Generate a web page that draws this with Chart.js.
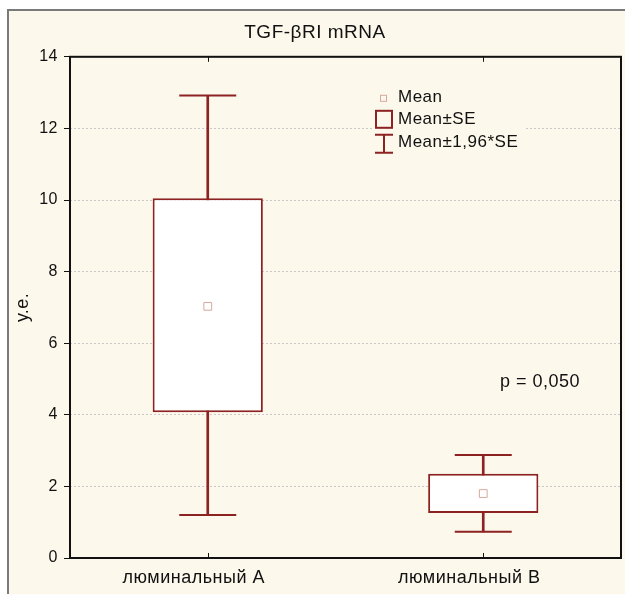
<!DOCTYPE html>
<html lang="ru">
<head>
<meta charset="UTF-8">
<title>TGF-βRI mRNA</title>
<script src="https://cdn.jsdelivr.net/npm/chart.js"></script>
<style>
    html, body { margin: 0; padding: 0; background: #fff; }
    .frame {
        position: absolute; left: 7px; top: 9px;
        width: 616px; height: 583px;
        border-left: 2px solid #7a7a7a; border-top: 2px solid #7a7a7a;
        background: #fcf8ec;
    }
    canvas { display: block; }
</style>
</head>
<body>
<div class="frame"><canvas id="chart" width="616" height="583"></canvas></div>
<script>
// data
const groups = ['люминальный A', 'люминальный B'];
const means = [7.03, 1.80];
const seLow = [4.07, 1.26];
const seHigh = [10.05, 2.35];
const ciLow = [1.20, 0.73];
const ciHigh = [12.92, 2.88];
const yMin = 0, yMax = 14, yStep = 2;
const pText = 'p = 0,050';

const RED = '#8c2222';
const MEAN_COL = '#d6a99b';
const FONT = '"Liberation Sans", Arial, sans-serif';

// frame, inward x ticks, legend box and p value
const extras = {
    id: 'extras',
    beforeDraw(chart) {
        // statistica-like wide text
        chart.ctx.letterSpacing = '0.5px';
    },
    afterDraw(chart) {
        const ctx = chart.ctx;
        const a = chart.chartArea;
        const xs = chart.scales.x;
        ctx.save();
        ctx.strokeStyle = '#111';
        ctx.lineWidth = 2;
        ctx.strokeRect(a.left, a.top, a.right - a.left, a.bottom - a.top);
        ctx.lineWidth = 1;
        groups.forEach((g, i) => {
            const x = Math.round(xs.getPixelForValue(i)) + 0.5;
            ctx.beginPath();
            ctx.moveTo(x, a.bottom); ctx.lineTo(x, a.bottom - 5);
            ctx.moveTo(x, a.top); ctx.lineTo(x, a.top + 5);
            ctx.stroke();
        });

        // legend
        const lx = a.left + 302, ly = a.top + 28;
        ctx.fillStyle = '#fcf8ec';
        ctx.fillRect(lx, ly, 153, 85);
        ctx.font = '17px ' + FONT;
        ctx.fillStyle = '#111';
        ctx.textBaseline = 'middle';
        ctx.fillText('Mean', lx + 26, ly + 13);
        ctx.fillText('Mean±SE', lx + 26, ly + 35);
        ctx.fillText('Mean±1,96*SE', lx + 26, ly + 58);
        ctx.strokeStyle = MEAN_COL;
        ctx.lineWidth = 1;
        ctx.strokeRect(lx + 8.5, ly + 10.5, 6, 6);
        ctx.strokeStyle = RED;
        ctx.lineWidth = 2;
        ctx.strokeRect(lx + 4, ly + 26, 16, 17);
        ctx.beginPath();
        ctx.moveTo(lx + 3, ly + 50); ctx.lineTo(lx + 21, ly + 50);
        ctx.moveTo(lx + 12, ly + 50); ctx.lineTo(lx + 12, ly + 68);
        ctx.moveTo(lx + 3, ly + 68); ctx.lineTo(lx + 21, ly + 68);
        ctx.stroke();

        ctx.fillStyle = '#111';
        ctx.font = '18px ' + FONT;
        ctx.fillText(pText, a.left + 430, a.top + 325);
        ctx.restore();
    }
};

new Chart(document.getElementById('chart'), {
    data: {
        labels: groups,
        datasets: [
            {
                type: 'bar',
                label: 'whisker',
                data: groups.map((g, i) => [ciLow[i], ciHigh[i]]),
                backgroundColor: RED,
                barThickness: 2,
                grouped: false,
                order: 3
            },
            {
                type: 'bar',
                label: 'Mean±SE',
                data: groups.map((g, i) => [seLow[i], seHigh[i]]),
                backgroundColor: '#ffffff',
                borderColor: RED,
                borderWidth: 2,
                borderSkipped: false,
                barPercentage: 0.4,
                categoryPercentage: 1,
                grouped: false,
                order: 2
            },
            {
                type: 'line',
                label: 'cap high',
                data: ciHigh,
                showLine: false,
                pointStyle: 'line',
                pointRadius: 28.5,
                pointBorderWidth: 2,
                pointBorderColor: RED,
                order: 1
            },
            {
                type: 'line',
                label: 'cap low',
                data: ciLow,
                showLine: false,
                pointStyle: 'line',
                pointRadius: 28.5,
                pointBorderWidth: 2,
                pointBorderColor: RED,
                order: 1
            },
            {
                type: 'line',
                label: 'Mean',
                data: means,
                showLine: false,
                pointStyle: 'rect',
                pointRadius: 5.5,
                pointBorderWidth: 1,
                pointBorderColor: MEAN_COL,
                pointBackgroundColor: '#ffffff',
                order: 0
            }
        ]
    },
    options: {
        responsive: false,
        animation: false,
        events: [],
        layout: { autoPadding: false, padding: { top: 0, right: 4, left: 0, bottom: 0 } },
        plugins: {
            legend: { display: false },
            tooltip: { enabled: false },
            title: {
                display: true,
                text: 'TGF-βRI mRNA',
                color: '#111',
                font: { family: FONT, size: 19, weight: 'normal' },
                padding: { top: 10, bottom: 13 }
            }
        },
        scales: {
            x: {
                type: 'category',
                offset: true,
                grid: { display: false, drawTicks: false },
                border: { display: false },
                ticks: {
                    color: '#111',
                    padding: 9,
                    labelOffset: -14,
                    font: { family: FONT, size: 18 }
                },
                afterFit(s) { s.height = 36; }
            },
            y: {
                min: yMin,
                max: yMax,
                ticks: {
                    stepSize: yStep,
                    color: '#111',
                    padding: 6,
                    font: { family: FONT, size: 16 }
                },
                grid: {
                    color: '#c8c8c8',
                    tickColor: '#111',
                    tickLength: 6,
                    tickWidth: 1,
                    tickBorderDash: []
                },
                border: { display: false, dash: [2, 2] },
                title: {
                    display: true,
                    text: 'у.е.',
                    color: '#111',
                    font: { family: FONT, size: 18 },
                    padding: { top: 3, bottom: 0 }
                },
                afterFit(s) { s.width = 61; }
            }
        }
    },
    plugins: [extras]
});
</script>
</body>
</html>
